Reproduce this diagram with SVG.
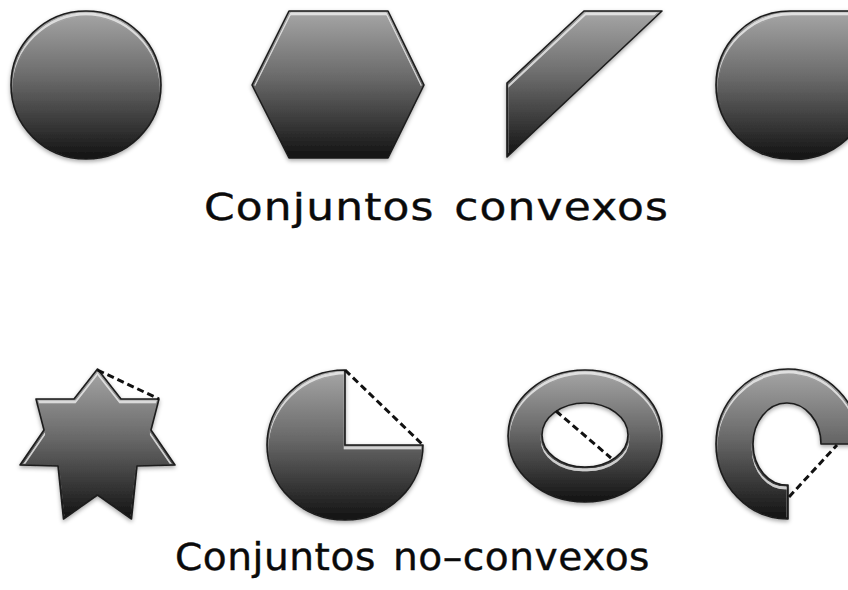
<svg xmlns="http://www.w3.org/2000/svg" width="848" height="590" viewBox="0 0 848 590">
  <defs>
    <linearGradient id="g" x1="0" y1="0" x2="0" y2="1">
      <stop offset="0" stop-color="#a6a6a6"/>
      <stop offset="0.45" stop-color="#6a6a6a"/>
      <stop offset="1" stop-color="#121212"/>
    </linearGradient>
    <filter id="sh" x="-10%" y="-10%" width="120%" height="125%">
      <feGaussianBlur in="SourceAlpha" stdDeviation="2.2" result="b"/>
      <feOffset in="b" dy="2" result="bo"/>
      <feFlood flood-color="#000" flood-opacity="0.35"/>
      <feComposite in2="bo" operator="in" result="shadow"/>
      <feMorphology in="SourceAlpha" operator="erode" radius="1.6" result="inner"/>
      <feOffset in="inner" dy="2.5" result="innerOff"/>
      <feComposite in="inner" in2="innerOff" operator="out" result="rim"/>
      <feGaussianBlur in="rim" stdDeviation="0.7" result="rimb"/>
      <feFlood flood-color="#fff" flood-opacity="0.6"/>
      <feComposite in2="rimb" operator="in" result="hl"/>
      <feComposite in="hl" in2="inner" operator="in" result="hl2"/>
      <feMerge>
        <feMergeNode in="shadow"/>
        <feMergeNode in="SourceGraphic"/>
        <feMergeNode in="hl2"/>
      </feMerge>
    </filter>
  </defs>
  <style>
    .s { fill: url(#g); stroke: #1c1c1c; stroke-width: 1.6; stroke-linejoin: round; filter: url(#sh); }
    .d { fill: none; stroke: #111; stroke-width: 3; stroke-dasharray: 7 4; }
    .t { font-family: "DejaVu Sans", "Lucida Grande", sans-serif; fill: #0a0a0a; stroke: #0a0a0a; stroke-width: 0.4; }
  </style>
  <rect width="848" height="590" fill="#fff"/>

  <g id="circle"><ellipse class="s" cx="86" cy="85" rx="75" ry="74"/></g>
  <g id="hexagon"><polygon class="s" points="289,11 388,11 424,85 388,158 289,158 252,85"/></g>
  <g id="parallelogram"><polygon class="s" points="584,11 662,11 507,157 507,83"/></g>
  <g id="rounded-square"><path class="s" d="M790,11 L870,11 L870,85 A74,74 0 0 1 790,159 A74,74 0 0 1 716,85 A74,74 0 0 1 790,11 Z"/></g>

  <g id="label-convex"><text class="t" x="204" y="220" font-size="38" letter-spacing="1" word-spacing="4" textLength="465" lengthAdjust="spacingAndGlyphs">Conjuntos convexos</text></g>

  <g id="star"><polygon class="s" points="97.5,369 121,399 159,399 151,430 175,465 137,466 131.5,519 97.5,495 63.5,519 58,466 20,465 44,430 36,399 74,399"/></g>
  <g id="pie"><path class="s" d="M345,445 L345,370 A78,75 0 1 0 423,445 Z"/></g>
  <g id="ring"><path class="s" fill-rule="evenodd" d="M508,436 A77,66 0 1 0 662,436 A77,66 0 1 0 508,436 Z M542,435 A43,32 0 1 1 628,435 A43,32 0 1 1 542,435 Z"/></g>
  <g id="c-shape"><path class="s" d="M788,519 A72,75 0 1 1 860,444 L821,444 A34,41 0 1 0 788,485 Z"/></g>

  <g id="connectors">
    <line class="d" x1="97.5" y1="370" x2="159" y2="399"/>
    <line class="d" x1="345" y1="370" x2="423" y2="445"/>
    <line class="d" x1="556" y1="411" x2="611" y2="458"/>
    <line class="d" x1="789" y1="497" x2="837" y2="445"/>
  </g>

  <g id="label-nonconvex"><text class="t" x="175" y="570" font-size="37" letter-spacing="0.5" word-spacing="4" textLength="475" lengthAdjust="spacingAndGlyphs">Conjuntos no–convexos</text></g>
</svg>
